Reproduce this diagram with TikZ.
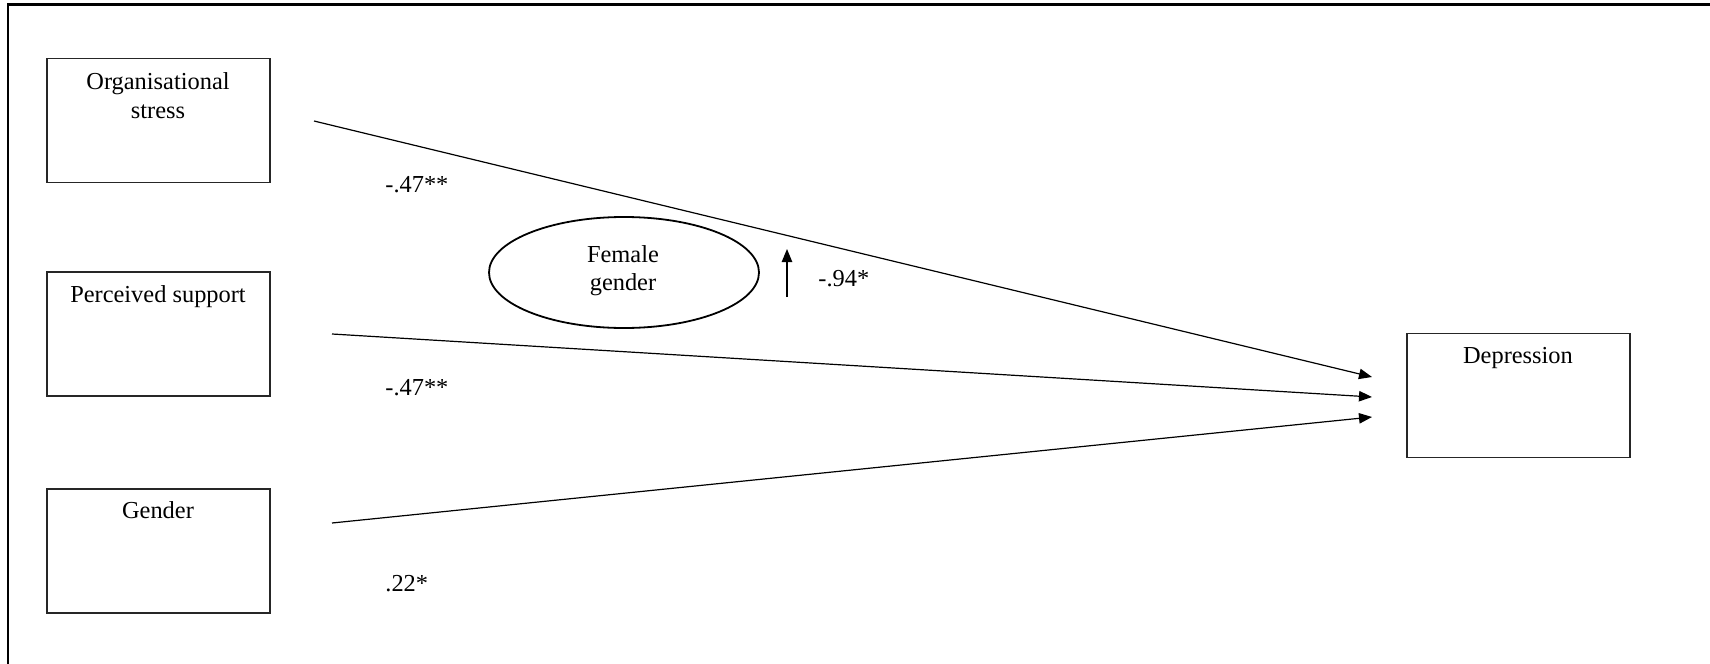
\documentclass[tikz,border=0pt]{standalone}
\usepackage{fontspec}
\setmainfont{Liberation Serif}
\usetikzlibrary{arrows.meta,shapes.geometric}
\begin{document}
\begin{tikzpicture}[x=0.5pt,y=-0.5pt,
  box/.style={draw=black!85, line width=0.6pt, minimum width=111.5pt, minimum height=62pt, inner sep=0pt},
  txt/.style={font=\fontsize{12.2}{15}\selectfont, inner sep=0pt, anchor=base},
  coef/.style={font=\fontsize{12.2}{15}\selectfont, inner sep=0pt, anchor=base west},
  conn/.style={line width=0.6pt, -{Triangle[length=6.5pt,width=5.2pt]}},
  frame/.style={line width=1.3pt}]
\useasboundingbox (0,0) rectangle (1710,664);
% frame (top and left only)
\coordinate (fa) at (8,664);
\coordinate (fb) at (8,4.5);
\coordinate (fc) at (1710,4.5);
\draw[frame] (fa) -- (fb) -- (fc);
% boxes
\node[box] (org) at (158.5,120.5) {};
\node[box] (sup) at (158.5,334) {};
\node[box] (gen) at (158.5,551) {};
\node[box] (dep) at (1518.5,395.5) {};
% box texts
\node[txt] (orgA) at (158,89) {Organisational};
\node[txt] (orgB) at (158,118) {stress};
\node[txt] (supA) at (158,302) {Perceived support};
\node[txt] (genA) at (158,518) {Gender};
\node[txt] (depA) at (1518,363) {Depression};
% moderator
\node[ellipse, draw, line width=0.9pt, minimum width=135pt, minimum height=55.5pt, inner sep=0pt] (fem) at (624,272.5) {};
\node[txt] (femA) at (623,262) {Female};
\node[txt] (femB) at (623,290) {gender};
% connector ends
\coordinate (s1) at (314,121);
\coordinate (s2) at (332,334);
\coordinate (s3) at (332,523);
\coordinate (e1) at (1372,377);
\coordinate (e2) at (1372,397);
\coordinate (e3) at (1372,417);
\draw[conn] (s1) -- (e1);
\draw[conn] (s2) -- (e2);
\draw[conn] (s3) -- (e3);
% moderation arrow
\coordinate (m1) at (787,297);
\coordinate (m2) at (787,249);
\draw[conn] (m1) -- (m2);
% coefficients
\node[coef] (c1) at (385,192) {-.47**};
\node[coef] (c2) at (385,395) {-.47**};
\node[coef] (c3) at (385,591) {.22*};
\node[coef] (c4) at (818,286) {-.94*};
\end{tikzpicture}
\end{document}
